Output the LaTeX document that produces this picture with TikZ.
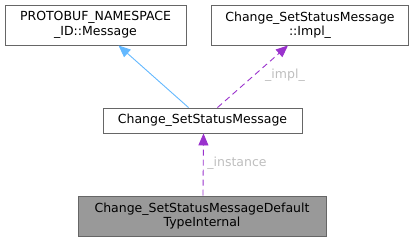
\documentclass[tikz,border=0pt]{standalone}
\usepackage{fontspec}
\setmainfont{DejaVu Sans}
\usetikzlibrary{arrows.meta}
\definecolor{edgeblue}{HTML}{63B8FF}
\definecolor{edgepurple}{HTML}{9A32CD}
\definecolor{boxline}{HTML}{666666}
\definecolor{boxfill}{HTML}{999999}
\definecolor{labelgray}{HTML}{BEBEBE}
\tikzset{
  cls/.style={draw=boxline, line width=0.9pt, fill=white, inner sep=0pt,
    font=\fontsize{12.5}{14.5}\selectfont, align=center, text=black},
  clsmain/.style={cls, fill=boxfill},
  inherit/.style={draw=edgeblue, line width=0.9pt, -{Stealth[length=12pt,width=10pt,inset=0pt]}},
  member/.style={draw=edgepurple, line width=0.9pt, dash pattern=on 6pt off 4pt,
    -{Stealth[length=12pt,width=10pt,inset=0pt]}},
  elabel/.style={text=labelgray, font=\fontsize{12.5}{14.5}\selectfont, inner sep=0pt}
}
\begin{document}
\begin{tikzpicture}[x=1pt,y=1pt]
  \useasboundingbox (0,0) rectangle (415,241);
  % class boxes (pixel rectangles, y measured from the top)
  \node[cls, minimum width=181pt, minimum height=40pt] (msg) at (95.5,216) {PROTOBUF\_NAMESPACE\\\_ID::Message};
  \node[cls, minimum width=197pt, minimum height=40pt] (impl) at (310,216) {Change\_SetStatusMessage\\::Impl\_};
  \node[cls, minimum width=199pt, minimum height=25pt] (ssm) at (202.5,120.5) {Change\_SetStatusMessage};
  \node[clsmain, minimum width=248pt, minimum height=40pt] (dti) at (202,25) {Change\_SetStatusMessageDefault\\TypeInternal};
  % connectors
  \draw[inherit] ([xshift=-14pt]ssm.north) -- ([xshift=23pt]msg.south);
  \draw[member] ([xshift=15pt]ssm.north) -- ([xshift=-22pt]impl.south);
  \draw[member] ([xshift=1pt]dti.north) -- ([xshift=1pt]ssm.south);
  % edge labels
  \node[elabel] (lblimpl) at (285,166) {\_impl\_};
  \node[elabel] (lblinst) at (237,78) {\_instance};
\end{tikzpicture}
\end{document}
